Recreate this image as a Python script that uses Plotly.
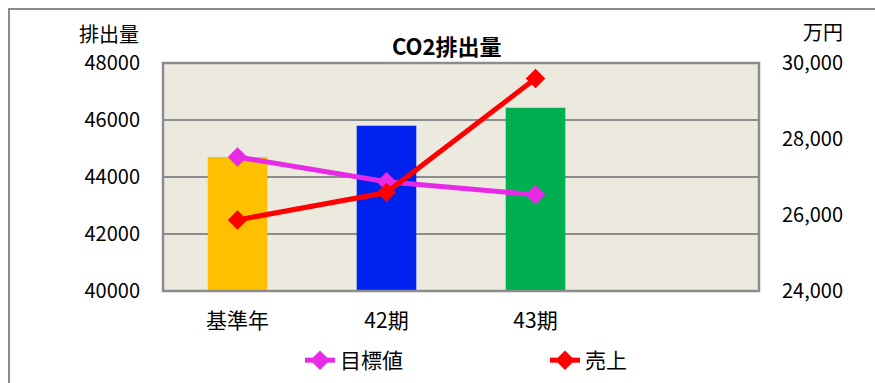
import plotly.graph_objects as go

categories = ["基準年", "42期", "43期", " "]
co2_values = [44700, 45800, 46430]
bar_colors = ["#FFC000", "#0022EE", "#00B050"]
target_values = [44700, 43835, 43380]
sales_values = [25870, 26590, 29590]

FONT = "Noto Sans CJK JP"

fig = go.Figure()
fig.add_trace(go.Bar(x=categories[:3], y=co2_values, marker=dict(color=bar_colors, line=dict(width=0)),
                     width=0.4, showlegend=False, name="排出量"))
fig.add_trace(go.Scatter(x=categories[:3], y=target_values, name="目標値", mode="lines+markers",
                         line=dict(color="#E62AE6", width=5),
                         marker=dict(symbol="diamond", size=15, color="#E62AE6")))
fig.add_trace(go.Scatter(x=categories[:3], y=sales_values, name="売上", mode="lines+markers", yaxis="y2",
                         line=dict(color="#FF0000", width=5),
                         marker=dict(symbol="diamond", size=15, color="#FF0000")))

fig.update_layout(
    width=875, height=383,
    margin=dict(l=163, r=116, t=63, b=92, autoexpand=False),
    paper_bgcolor="white",
    plot_bgcolor="#ECEADF",
    font=dict(family=FONT, size=20, color="#000000"),
    xaxis=dict(type="category", categoryorder="array", categoryarray=categories,
               range=[-0.5, 3.5], showgrid=False, ticks="", showline=False, automargin=False,
               ticklabelstandoff=15, tickfont=dict(size=21)),
    yaxis=dict(range=[40000, 48000], dtick=2000, tickformat="d", showgrid=True,
               gridcolor="#8C8C8C", gridwidth=1.5, zeroline=False, ticks="", automargin=False,
               ticklabelstandoff=22, tickfont=dict(size=20)),
    yaxis2=dict(range=[24000, 30000], dtick=2000, tickformat=",", overlaying="y", side="right",
                showgrid=False, zeroline=False, ticks="", ticklabelstandoff=22, automargin=False,
                tickfont=dict(size=20)),
    legend=dict(orientation="h", x=(300 - 163) / 596, xanchor="left",
                yref="container", y=(383 - 340) / 383, yanchor="top",
                font=dict(size=21), entrywidth=200, bgcolor="rgba(0,0,0,0)"),
    showlegend=True,
)

# plot area border
fig.add_shape(type="rect", xref="paper", yref="paper", x0=0, y0=0, x1=1, y1=1,
              line=dict(color="#8C8C8C", width=2.5), fillcolor="rgba(0,0,0,0)", layer="above")
# chart area border
fig.add_shape(type="rect", xref="paper", yref="paper", x0=(9 - 163) / 596, y0=-1,
              x1=2, y1=(291 - 9) / 228, line=dict(color="#8C8C8C", width=2),
              fillcolor="rgba(0,0,0,0)")

fig.add_annotation(text="<b>CO2排出量</b>", xref="paper", yref="paper", x=(447 - 163) / 596,
                   y=(291 - 45) / 228, showarrow=False, font=dict(size=22), xanchor="center", yanchor="middle")
fig.add_annotation(text="排出量", xref="paper", yref="paper", x=(141 - 163) / 596,
                   y=(291 - 33) / 228, showarrow=False, font=dict(size=20), xanchor="right", yanchor="middle")
fig.add_annotation(text="万円", xref="paper", yref="paper", x=(823 - 163) / 596,
                   y=(291 - 32) / 228, showarrow=False, font=dict(size=20), xanchor="center", yanchor="middle")

fig.write_html("out.html")
